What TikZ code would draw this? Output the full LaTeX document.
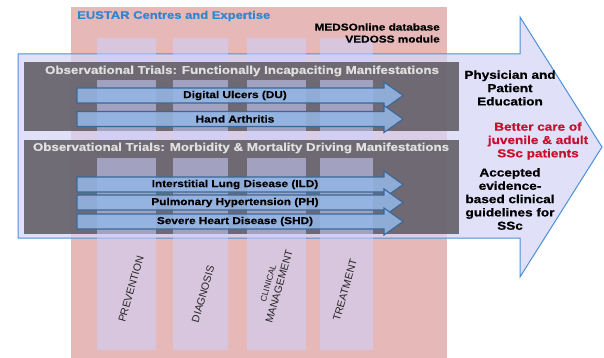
\documentclass[tikz,border=0pt]{standalone}
\usepackage{fontspec}
\setmainfont{Liberation Sans}
\newfontfamily\af{Liberation Sans Bold}[FakeStretch=1.18, FakeBold=0.6]
\definecolor{pinkbg}{HTML}{E6B9B8}
\definecolor{lavarrow}{HTML}{D6D6F8}
\definecolor{arrowline}{HTML}{4A90D9}
\definecolor{graybox}{HTML}{5C585E}
\definecolor{colfill}{HTML}{CDCFFF}
\definecolor{barfill}{HTML}{94B6E6}
\definecolor{barline}{HTML}{3A6898}
\definecolor{eublue}{HTML}{2E86D1}
\definecolor{redtxt}{HTML}{C8102E}
\tikzset{
  boxgray/.style={fill=graybox, fill opacity=0.85, draw=none},
  colband/.style={fill=colfill, fill opacity=0.55, draw=none},
  bigarrow/.style={fill=lavarrow, fill opacity=0.75, draw=arrowline, line width=1pt, line join=miter},
  bararrow/.style={fill=barfill, fill opacity=0.88, draw=barline, line width=1.1pt, line join=miter},
  bartext/.style={font=\af\fontsize{10}{12}\selectfont, text=black, inner sep=0pt},
  headtext/.style={font=\af\fontsize{11.3}{13}\selectfont, text=white!88!black, inner sep=0pt},
  righttext/.style={font=\af\fontsize{11.5}{13.3}\selectfont, align=center, inner sep=0pt},
  coltext/.style={font=\fontsize{10.5}{12}\selectfont, text=black!85, rotate=74, align=center, inner sep=0pt},
}
\newcommand{\barshape}[1]{%
  \draw[bararrow] (77,#1-7.5) -- (384,#1-7.5) -- (384,#1-13.5) -- (403,#1)
    -- (384,#1+13.5) -- (384,#1+7.5) -- (77,#1+7.5) -- cycle;}
\begin{document}
\begin{tikzpicture}[x=1pt,y=-1pt]
\useasboundingbox (0,0) rectangle (604,358);
\fill[white] (0,0) rectangle (604,358);
% pink background
\fill[pinkbg] (71,7) rectangle (447,358);
% big arrow
\draw[bigarrow] (18,54) -- (520,54) -- (520,17) -- (602,147) -- (520,277)
  -- (520,238) -- (18,238) -- cycle;
% gray boxes
\fill[boxgray] (24,62) rectangle (459,131);
\fill[boxgray] (24,140) rectangle (459,234);
% columns (hidden behind title bands)
\foreach \xa/\xb in {97/156, 173/228, 247/306, 320/373}{
  \fill[colband] (\xa,38) rectangle (\xb,62);
  \fill[colband] (\xa,80) rectangle (\xb,140);
  \fill[colband] (\xa,158) rectangle (\xb,350);
}
% blue bar arrows
\barshape{95.5}
\barshape{119}
\barshape{184.5}
\barshape{202.5}
\barshape{221.5}
\node[bartext] (du)  at (235,95.5)  {Digital Ulcers (DU)};
\node[bartext] (ha)  at (235,119)   {Hand Arthritis};
\node[bartext] (ild) at (235,184.5) {Interstitial Lung Disease (ILD)};
\node[bartext] (ph)  at (235,202.5) {Pulmonary Hypertension (PH)};
\node[bartext] (shd) at (235,221.5) {Severe Heart Disease (SHD)};
% headers
\node[headtext] (h1) at (242,71)  {Observational Trials: Functionally Incapaciting Manifestations};
\node[headtext] (h2) at (241,148) {Observational Trials: Morbidity \& Mortality Driving Manifestations};
% top texts
\node[font=\af\fontsize{11}{13}\selectfont, text=eublue, anchor=west, inner sep=0pt] (eustar) at (77,16) {EUSTAR Centres and Expertise};
\node[font=\af\fontsize{10}{12}\selectfont, align=right, anchor=east, inner sep=0pt] (meds) at (440,33) {MEDSOnline database\\VEDOSS module};
% right texts
\node[righttext] (edu) at (510,88) {Physician and\\Patient\\Education};
\node[righttext, text=redtxt] (care) at (538,141) {Better care of\\juvenile \& adult\\SSc patients};
\node[righttext] (guide) at (510,199) {Accepted\\evidence-\\based clinical\\guidelines for\\SSc};
% column labels
\node[coltext] (prev)  at (131,289) {PREVENTION};
\node[coltext] (diag)  at (203,294) {DIAGNOSIS};
\node[coltext] (clin)  at (274,285) {{\fontsize{8.5}{10}\selectfont CLINICAL}\\MANAGEMENT};
\node[coltext] (treat) at (345,290) {TREATMENT};
\end{tikzpicture}
\end{document}
